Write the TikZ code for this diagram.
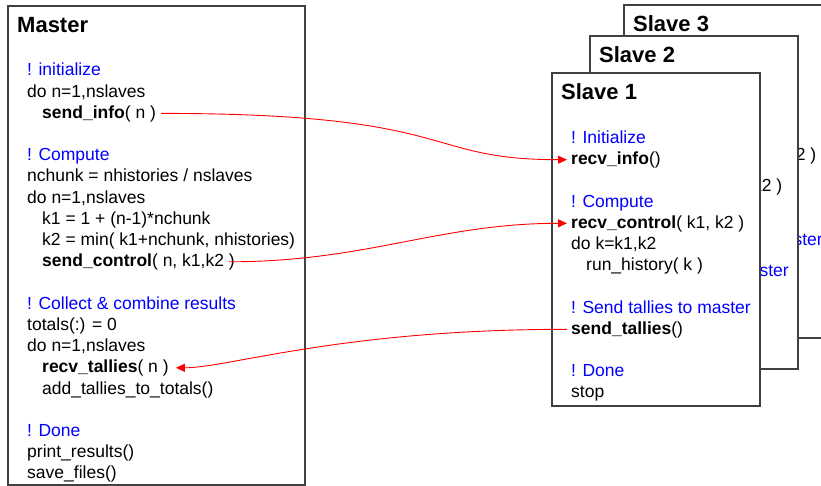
\documentclass[tikz,border=0pt]{standalone}
\usepackage{fontspec}
\setmainfont{Liberation Sans}
\usetikzlibrary{arrows.meta}

\begin{document}
\begin{tikzpicture}[x=1pt,y=-1pt]
	\tikzset{box/.style={draw=black!75,line width=1.2pt,fill=white},
		title/.style={anchor=base west,inner sep=0pt,font=\fontsize{22}{26}\selectfont\bfseries},
		code/.style={anchor=base west,inner sep=0pt,text height=10pt,text depth=0pt,font=\fontsize{17.5}{21}\selectfont},
		comment/.style={code,text=blue},
		msg/.style={red,line width=0.9pt,-{Triangle[length=9pt,width=8pt]}}}
	
	% Line spacing and first baseline
	\def\dy{21.2}
	\def\mtop{76}
	
	\clip (0,0) rectangle (821,486);
	
	% Master box
	\draw[box] (8,6) rectangle (305,485);
	\node[title] (master) at (17,33) {Master};
	
	\node[comment] (minit) at (27,\mtop) {! initialize};
	\node[code] (mloopa) at (27,\mtop+1*\dy) {do n=1,nslaves};
	\node[code] (msendinfo) at (42,\mtop+2*\dy) {\textbf{send\_info}( n )};
	
	\node[comment] (mcompute) at (27,\mtop+4*\dy) {! Compute};
	\node[code] (mchunk) at (27,\mtop+5*\dy) {nchunk = nhistories / nslaves};
	\node[code] (mloopb) at (27,\mtop+6*\dy) {do n=1,nslaves};
	\node[code] (mkone) at (42,\mtop+7*\dy) {k1 = 1 + (n-1)*nchunk};
	\node[code] (mktwo) at (42,\mtop+8*\dy) {k2 = min( k1+nchunk, nhistories)};
	\node[code] (msendctrl) at (42,\mtop+9*\dy) {\textbf{send\_control}( n, k1,k2 )};
	
	\node[comment] (mcollect) at (27,\mtop+11*\dy) {! Collect \& combine results};
	\node[code] (mtotals) at (27,\mtop+12*\dy) {totals(:) = 0};
	\node[code] (mloopc) at (27,\mtop+13*\dy) {do n=1,nslaves};
	\node[code] (mrecvtally) at (42,\mtop+14*\dy) {\textbf{recv\_tallies}( n )};
	\node[code] (madd) at (42,\mtop+15*\dy) {add\_tallies\_to\_totals()};
	
	\node[comment] (mdone) at (27,\mtop+17*\dy) {! Done};
	\node[code] (mprint) at (27,\mtop+18*\dy) {print\_results()};
	\node[code] (msave) at (27,\mtop+19*\dy) {save\_files()};
	
	% Slave boxes, back to front
	\foreach \s/\sx/\sy in {3/624/5, 2/590/36, 1/552/73}
	{
		\draw[box] (\sx,\sy) rectangle (\sx+208,\sy+333);
		\node[title] (slave\s) at (\sx+9,\sy+27) {Slave \s};
		\node[comment] (init\s) at (\sx+19,\sy+70.5) {! Initialize};
		\node[code] (info\s) at (\sx+19,\sy+70.5+1*\dy) {\textbf{recv\_info}()};
		\node[comment] (compute\s) at (\sx+19,\sy+70.5+3*\dy) {! Compute};
		\node[code] (ctrl\s) at (\sx+19,\sy+70.5+4*\dy) {\textbf{recv\_control}( k1, k2 )};
		\node[code] (loop\s) at (\sx+19,\sy+70.5+5*\dy) {do k=k1,k2};
		\node[code] (run\s) at (\sx+34,\sy+70.5+6*\dy) {run\_history( k )};
		\node[comment] (send\s) at (\sx+19,\sy+70.5+8*\dy) {! Send tallies to master};
		\node[code] (tally\s) at (\sx+19,\sy+70.5+9*\dy) {\textbf{send\_tallies}()};
		\node[comment] (done\s) at (\sx+19,\sy+70.5+11*\dy) {! Done};
		\node[code] (stop\s) at (\sx+19,\sy+70.5+12*\dy) {stop};
	}
	
	% Messages between master and slave
	\draw[msg,shorten <=5pt,shorten >=4pt] (msendinfo.east) .. controls +(305,0) and +(-151,0) .. (info1.west);
	\draw[msg,shorten <=-6pt,shorten >=4pt] (msendctrl.east) to[out=0,in=180] (ctrl1.west);
	\draw[msg,shorten <=4pt,shorten >=7pt] (tally1.west) .. controls +(-230,0) and +(60,0) .. (mrecvtally.east);
	
\end{tikzpicture}
\end{document}
